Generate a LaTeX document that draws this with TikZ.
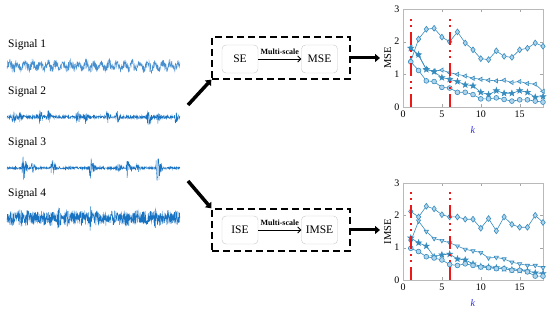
\documentclass[tikz,border=0pt]{standalone}
\usepackage{fontspec}
\setmainfont{Liberation Serif}
\usepackage{tikz}
\usetikzlibrary{arrows.meta,positioning}
\usepackage{pgfplots}

\definecolor{sigblue}{RGB}{25,115,195}
\definecolor{lineblue}{RGB}{55,140,190}
\definecolor{markfill}{RGB}{175,212,236}
\definecolor{kblue}{RGB}{45,45,225}
\definecolor{markred}{RGB}{235,25,25}

\pgfdeclareplotmark{fivestar}{%
  \pgfpathmoveto{\pgfpointpolar{90}{1.25\pgfplotmarksize}}%
  \pgfpathlineto{\pgfpointpolar{126}{0.5\pgfplotmarksize}}%
  \pgfpathlineto{\pgfpointpolar{162}{1.25\pgfplotmarksize}}%
  \pgfpathlineto{\pgfpointpolar{198}{0.5\pgfplotmarksize}}%
  \pgfpathlineto{\pgfpointpolar{234}{1.25\pgfplotmarksize}}%
  \pgfpathlineto{\pgfpointpolar{270}{0.5\pgfplotmarksize}}%
  \pgfpathlineto{\pgfpointpolar{306}{1.25\pgfplotmarksize}}%
  \pgfpathlineto{\pgfpointpolar{342}{0.5\pgfplotmarksize}}%
  \pgfpathlineto{\pgfpointpolar{18}{1.25\pgfplotmarksize}}%
  \pgfpathlineto{\pgfpointpolar{54}{0.5\pgfplotmarksize}}%
  \pgfpathclose
  \pgfusepathqfillstroke}

\pgfplotsset{compat=1.18, minor tick num=0,
    entaxis/.style={
        scale only axis,
        width=140pt,
        height=98pt,
        anchor=south west,
        xmin=0, xmax=18, ymin=0, ymax=3,
        xtick={0,5,10,15},
        ytick={0,1,2,3},
        xticklabels={0,5,10,15},
        yticklabels={0,1,2,3},
        tick align=inside,
        major tick length=3pt,
        axis line style={gray!55},
        tick style={gray!70},
        tick label style={font=\fontsize{10}{10}\selectfont},
        xlabel={\textcolor{kblue}{\textit{k}}},
        xlabel style={at={(axis description cs:0.5,-0.24)}, anchor=center},
        ylabel style={at={(axis description cs:-0.11,0.5)}, anchor=center,
            font=\fontsize{10.5}{10.5}\selectfont},
        clip=false,
    },
    ent/.style={
        color=lineblue,
        line width=0.6pt,
        mark size=2.4pt,
        mark options={solid, fill=markfill},
    },
}

\begin{document}
\begin{tikzpicture}[
    x=1pt, y=1pt,
    declare function={bu(\s,\m,\w)=max(0,1-abs(\s-\m)/((\s<\m)?1.5:\w));},
    siglabel/.style={
        anchor=west,
        inner sep=0pt,
        font=\fontsize{11.5}{13}\selectfont,
    },
    wave/.style={
        color=sigblue,
        line width=0.35pt,
    },
    stagebox/.style={
        draw=gray!45,
        rounded corners=4pt,
        minimum width=36pt,
        minimum height=28pt,
        inner sep=0pt,
        font=\fontsize{11.5}{13}\selectfont,
    },
    groupbox/.style={
        draw=black,
        line width=1.3pt,
        dash pattern=on 7pt off 4pt,
        minimum width=138pt,
        minimum height=42pt,
    },
    flow/.style={
        -{Straight Barb[length=3pt,width=6pt]},
        line width=0.8pt,
    },
    bigarrow/.style={
        -{Triangle[length=5pt,width=8pt]},
        line width=3pt,
        color=black,
    },
]
\useasboundingbox (0,0) rectangle (550,313);
\pgfmathsetseed{7}

\node[siglabel] (s1) at (8,268) {Signal 1};
\node[siglabel] (s2) at (8,221) {Signal 2};
\node[siglabel] (s3) at (8,170) {Signal 3};
\node[siglabel] (s4) at (8,119) {Signal 4};

\draw[wave,color=sigblue!80] plot[domain=7:180,samples=800]
    (\x,{247+2.5*sin(\x*47)+(3+2*abs(sin(\x*9)))*rand});
\draw[wave] plot[domain=7:180,samples=800]
    (\x,{196+(1.5+7*bu(\x,13,4)+6*bu(\x,20,4)+7*bu(\x,40,4)+6*bu(\x,48,4)+7*bu(\x,77,4)+6*bu(\x,85,4)
    +6*bu(\x,107,4)+7*bu(\x,117,4)+11*bu(\x,148,5)+6*bu(\x,158,4)+6*bu(\x,175,4))*rand});
\draw[wave] plot[domain=7:180,samples=800]
    (\x,{145+(1.2+12*bu(\x,23,6)+5*bu(\x,32,4)+10*bu(\x,52,5)+11*bu(\x,90,6)+6*bu(\x,118,4)
    +9*bu(\x,127,5)+5*bu(\x,137,4)+16*bu(\x,157,6))*rand});
\draw[wave] plot[domain=7:180,samples=900]
    (\x,{95+(5+3*abs(sin(\x*23))+5*bu(\x,20,3)+4*bu(\x,58,3)+6*bu(\x,90,3)+4*bu(\x,125,3)+4*bu(\x,155,3))*rand});

% entropy stages
\node[groupbox] (sebox) at (281,255) {};
\node[stagebox] (se) at (240,254) {SE};
\node[stagebox] (mse) at (319.5,254) {MSE};
\draw[flow] (se) -- node[above=0.5pt,font=\bfseries\fontsize{8}{8}\selectfont] {Multi-scale} (mse);

\node[groupbox] (isebox) at (281,83) {};
\node[stagebox] (ise) at (240,83) {ISE};
\node[stagebox] (imse) at (319.5,83) {IMSE};
\draw[flow] (ise) -- node[above=0.5pt,font=\bfseries\fontsize{8}{8}\selectfont] {Multi-scale} (imse);

\coordinate (upstart) at (188,208);
\coordinate (lowstart) at (188,132);
\coordinate (mseend) at (380,255);
\coordinate (imseend) at (380,83);
\draw[bigarrow,line width=3.5pt] (upstart) -- (sebox.south west);
\draw[bigarrow,line width=3.5pt] (lowstart) -- (isebox.north west);
\draw[bigarrow] (sebox.east) -- (mseend);
\draw[bigarrow] (isebox.east) -- (imseend);

\begin{axis}[entaxis, name=mseplot, at={(403pt,206pt)}, ylabel={MSE}]
\addplot[ent, mark=diamond*, mark size=2.9pt] coordinates {(1,1.4)(2,2.08)(3,2.38)(4,2.41)(5,2.14)(6,2.0)(7,2.3)(8,1.96)(9,1.75)(10,1.48)(11,1.45)(12,1.72)(13,1.55)(14,1.52)(15,1.75)(16,1.8)(17,1.96)(18,1.86)};
\addplot[ent, mark=triangle*, mark options={solid,fill=markfill,rotate=90}] coordinates {(1,1.82)(2,1.58)(3,1.15)(4,1.1)(5,1.13)(6,1.05)(7,1.0)(8,0.95)(9,0.88)(10,0.85)(11,0.82)(12,0.8)(13,0.82)(14,0.75)(15,0.78)(16,0.72)(17,0.7)(18,0.48)};
\addplot[ent, mark=fivestar, mark options={solid,fill=lineblue}] coordinates {(1,1.8)(2,1.6)(3,1.15)(4,1.08)(5,0.9)(6,0.85)(7,0.78)(8,0.68)(9,0.65)(10,0.45)(11,0.38)(12,0.5)(13,0.42)(14,0.42)(15,0.5)(16,0.45)(17,0.3)(18,0.32)};
\addplot[ent, mark=*] coordinates {(1,1.38)(2,1.12)(3,0.8)(4,0.78)(5,0.6)(6,0.58)(7,0.45)(8,0.45)(9,0.38)(10,0.25)(11,0.25)(12,0.28)(13,0.23)(14,0.18)(15,0.22)(16,0.22)(17,0.18)(18,0.15)};
\coordinate (k1) at (axis cs:1,0);
\coordinate (k6) at (axis cs:6,0);
\end{axis}

\begin{axis}[entaxis, name=imseplot, at={(403pt,33pt)}, height=97pt, ylabel={IMSE}]
\addplot[ent, mark=diamond*, mark size=2.9pt] coordinates {(1,2.12)(2,1.95)(3,2.28)(4,2.2)(5,2.02)(6,1.95)(7,1.95)(8,1.88)(9,1.88)(10,1.6)(11,1.9)(12,1.52)(13,1.95)(14,1.72)(15,1.63)(16,1.63)(17,2.0)(18,1.78)};
\addplot[ent, mark=triangle*, mark options={solid,fill=markfill,rotate=180}] coordinates {(1,1.2)(2,1.82)(3,1.5)(4,1.28)(5,1.22)(6,1.15)(7,1.05)(8,0.95)(9,0.9)(10,0.85)(11,0.68)(12,0.7)(13,0.65)(14,0.55)(15,0.5)(16,0.45)(17,0.45)(18,0.38)};
\addplot[ent, mark=fivestar, mark options={solid,fill=lineblue}] coordinates {(1,1.3)(2,1.15)(3,1.05)(4,0.72)(5,0.78)(6,0.8)(7,0.65)(8,0.62)(9,0.5)(10,0.42)(11,0.4)(12,0.38)(13,0.35)(14,0.32)(15,0.3)(16,0.28)(17,0.22)(18,0.2)};
\addplot[ent, mark=*] coordinates {(1,0.98)(2,0.88)(3,0.72)(4,0.68)(5,0.62)(6,0.48)(7,0.45)(8,0.5)(9,0.45)(10,0.4)(11,0.38)(12,0.35)(13,0.35)(14,0.3)(15,0.3)(16,0.25)(17,0.12)(18,0.12)};
\coordinate (ik1) at (axis cs:1,0);
\coordinate (ik6) at (axis cs:6,0);
\end{axis}

% red dash-dot markers at k = 1 and k = 6
\foreach \c in {k1,k6,ik1,ik6}{
    \begin{scope}[shift={(\c)}]
    \foreach \b/\l in {0/13,18/2,23.5/2,31/13,49/2,54.5/2,62/13,80/2,85.5/2}
        \fill[markred] (-1,\b) rectangle (1,{\b+\l});
    \end{scope}
}
\end{tikzpicture}
\end{document}
